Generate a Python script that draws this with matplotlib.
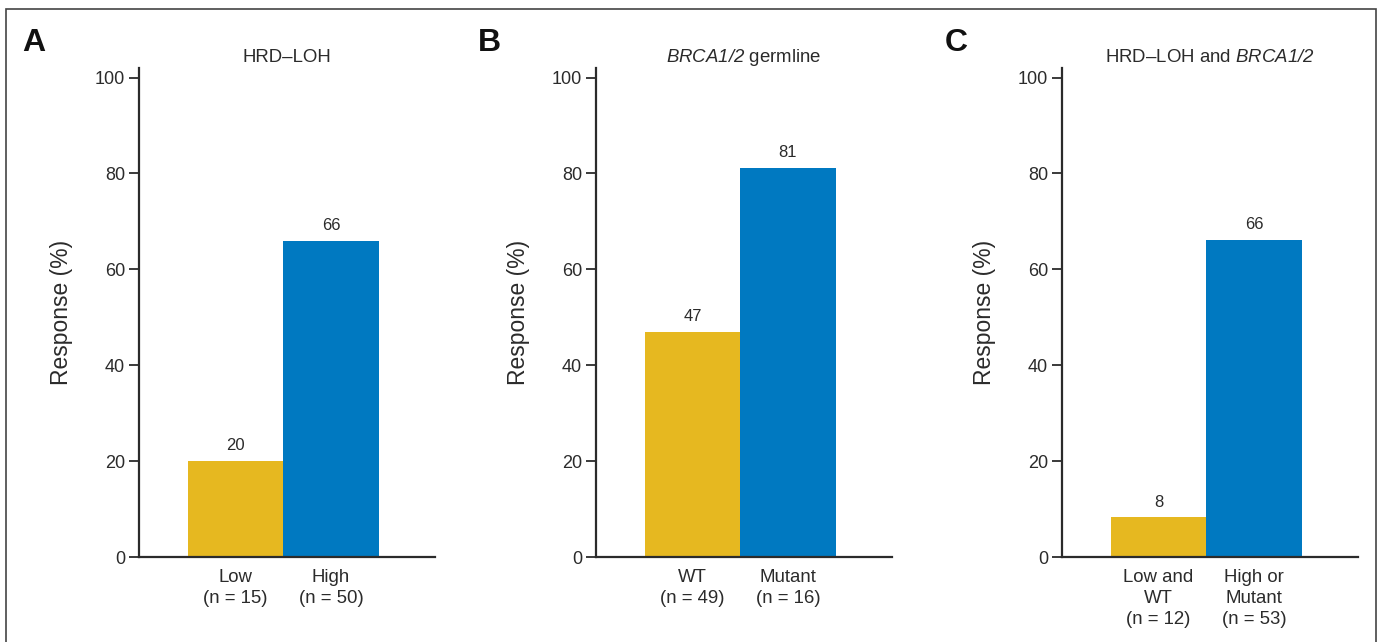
import matplotlib
matplotlib.use("Agg")
import matplotlib.pyplot as plt
from matplotlib.patches import Rectangle

# данные
panel_letters = ["A", "B", "C"]
titles = ["HRD\u2013LOH", r"$\mathrm{BRCA1/2}$ germline", "HRD\u2013LOH and $\\mathrm{BRCA1/2}$"]
categories = [
    ["Low\n(n = 15)", "High\n(n = 50)"],
    ["WT\n(n = 49)", "Mutant\n(n = 16)"],
    ["Low and\nWT\n(n = 12)", "High or\nMutant\n(n = 53)"],
]
values = [
    [20, 66],
    [47, 81.2],
    [8.3, 66.2],
]
value_labels = [
    ["20", "66"],
    ["47", "81"],
    ["8", "66"],
]
yticks = [0, 20, 40, 60, 80, 100]

colors = ["#E6B820", "#0079C1"]
dark = "#2b2b2b"

plt.rcParams["font.family"] = ["Liberation Sans", "DejaVu Sans"]
# курсив для BRCA1/2 (включая цифры)
plt.rcParams["mathtext.fontset"] = "custom"
plt.rcParams["mathtext.rm"] = "Liberation Sans:italic"
plt.rcParams["mathtext.it"] = "Liberation Sans:italic"

W, H = 1381, 642
fig = plt.figure(figsize=(W / 100, H / 100), dpi=100)

# рамка вокруг рисунка
fig.patches.append(Rectangle((6 / W, -0.05), (1376 - 6) / W, 1.05 - 9 / H,
                             transform=fig.transFigure, fill=False,
                             edgecolor="#444444", linewidth=1.2))

lefts = [139, 596, 1062]
letter_x = [22, 478, 945]
for i in range(3):
    ax = fig.add_axes([lefts[i] / W, (H - 557) / H, 296 / W, (557 - 68) / H])
    ax.bar([0, 1], values[i], width=1.0, color=colors)
    for x, v, lab in zip([0, 1], values[i], value_labels[i]):
        ax.text(x, v + 1.6, lab, ha="center", va="bottom", fontsize=12, color=dark)
    ax.set_xlim(-1.01, 2.09)
    ax.set_ylim(0, 102)
    ax.set_yticks(yticks)
    ax.set_xticks([0, 1])
    ax.set_xticklabels(categories[i], fontsize=13.4, color=dark, linespacing=1.3)
    ax.tick_params(axis="x", length=0, pad=9)
    ax.tick_params(axis="y", length=7, width=1.3, color=dark, labelsize=13,
                   labelcolor=dark, pad=3)
    for s in ["top", "right"]:
        ax.spines[s].set_visible(False)
    for s in ["left", "bottom"]:
        ax.spines[s].set_linewidth(1.6)
        ax.spines[s].set_color(dark)
    ax.set_ylabel("Response (%)", fontsize=16.5, color=dark, labelpad=16)
    ax.set_title(titles[i], fontsize=13.4, color=dark, pad=4)
    fig.text(letter_x[i] / W, 1 - 51 / H, panel_letters[i], fontsize=23,
             fontweight="bold", color="#111111")

fig.savefig("out.png", dpi=100)
